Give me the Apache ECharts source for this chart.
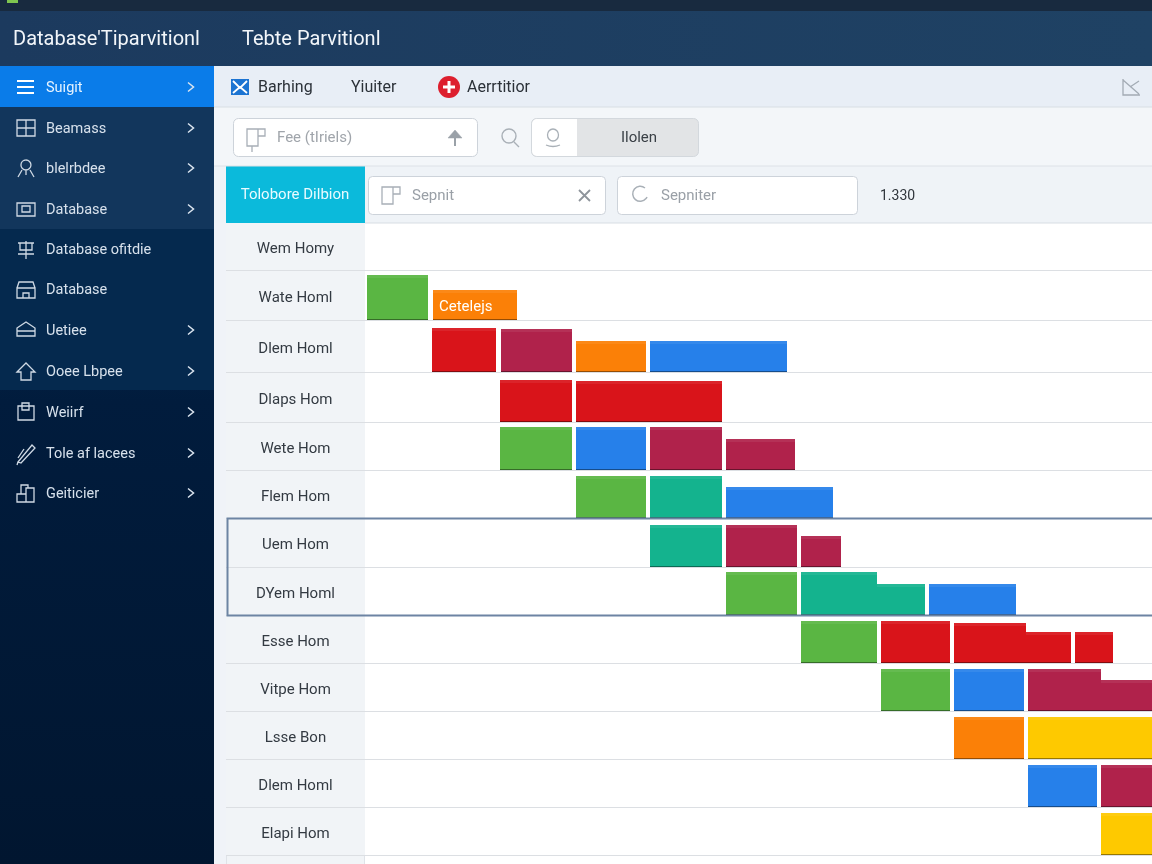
<!DOCTYPE html>
<html>
<head>
<meta charset="utf-8">
<title>Table Partition</title>
<style>
html,body{margin:0;padding:0;background:#fff;}
#main{width:1152px;height:864px;}
</style>
<script src="https://cdn.jsdelivr.net/npm/echarts@6/dist/echarts.min.js"></script>
</head>
<body>
<div id="main"></div>
<script>
// row names, top to bottom
var rowNames = ['Wem Homy','Wate Homl','Dlem Homl','Dlaps Hom','Wete Hom','Flem Hom','Uem Hom','DYem Homl','Esse Hom','Vitpe Hom','Lsse Bon','Dlem Homl','Elapi Hom'];
// row boundaries on the y axis (rows are not all the same height in the picture)
var rowEdges = [0,48,98,150,200,248,296,345,393,441,489,537,585,633];

// each bar: [row, start, end, height]
var greenBars = [[1,2,63,45],[4,135,207,43],[5,211,281,42],[7,361,432,43],[8,436,512,42],[9,516,585,42]];
var orangeBars = [[1,68,152,30],[2,211,281,31],[10,589,659,42]];
var orangeTexts = ['Cetelejs','',''];
var redBars = [[2,67,131,44],[3,135,207,42],[3,211,357,41],[8,516,585,42],[8,589,661,40],[8,661,706,31],[8,710,748,31]];
var maroonBars = [[2,136,207,43],[4,285,357,43],[4,361,430,31],[6,361,432,42],[6,436,476,31],[9,663,736,42],[9,736,787,31],[11,736,787,42]];
var blueBars = [[2,285,422,31],[4,211,281,43],[5,361,468,31],[7,564,651,31],[9,589,659,42],[11,663,732,42]];
var tealBars = [[5,285,357,42],[6,285,357,42],[7,436,512,43],[7,512,560,31]];
var yellowBars = [[10,663,787,42],[12,736,787,42]];

var menuNames = ['Suigit','Beamass','blelrbdee','Database','Database ofitdie','Database','Uetiee','Ooee Lbpee','Weiirf','Tole af lacees','Geiticier'];
var menuRows = [87,128,168,209,249,289,330,371,412,453,493];
var menuArrows = [1,1,1,1,0,0,1,1,1,1,1];

var FONT = 'Roboto, "Noto Sans", sans-serif';

function renderBar(params, api) {
    var row = api.value(0);
    var bottom = api.coord([0, rowEdges[row + 1]])[1] - 1;
    var x0 = api.coord([api.value(1), 0])[0];
    var x1 = api.coord([api.value(2), 0])[0];
    var barTop = bottom - api.value(3);
    var color = api.visual('color');
    var kids = [
        {type:'rect', shape:{x:x0,y:barTop,width:x1-x0,height:bottom-barTop}, style:{fill:color}},
        {type:'rect', shape:{x:x0,y:barTop,width:x1-x0,height:3}, style:{fill:'rgba(255,255,255,0.07)'}},
        {type:'rect', shape:{x:x0,y:bottom-1,width:x1-x0,height:1}, style:{fill:'rgba(0,0,0,0.4)'}}
    ];
    if (params.seriesName === 'Orange' && orangeTexts[params.dataIndex]) {
        kids.push({type:'text', style:{x:x0+6,y:(barTop+bottom)/2+2,text:orangeTexts[params.dataIndex],fill:'#fff',font:'15px '+FONT,verticalAlign:'middle'}});
    }
    return {type:'group', children:kids};
}

function renderRow(params, api) {
    var i = api.value(0);
    var rowTop = api.coord([0, rowEdges[i]])[1];
    var bottom = api.coord([0, rowEdges[i + 1]])[1];
    var left = api.coord([-139, 0])[0];
    var col = api.coord([0, 0])[0];
    var right = api.coord([787, 0])[0];
    return {type:'group', children:[
        {type:'rect', shape:{x:left,y:rowTop,width:col-left,height:bottom-rowTop}, style:{fill:'#f1f4f7'}},
        {type:'line', shape:{x1:left,y1:bottom-0.5,x2:right,y2:bottom-0.5}, style:{stroke:'#dcdfe3',lineWidth:1}},
        {type:'text', style:{x:(left+col)/2,y:(rowTop+bottom)/2+2,text:rowNames[i],fill:'#333a42',font:'15px '+FONT,align:'center',verticalAlign:'middle'}}
    ]};
}

function barSeries(name, color, data) {
    return {type:'custom', name:name, renderItem:renderBar, itemStyle:{color:color}, data:data, z:3, silent:true, clip:false,
        encode:{x:[1,2], y:0}};
}

// page furniture
function box(x, y, w, h, fill, stroke, r) {
    return {type:'rect', shape:{x:x,y:y,width:w,height:h,r:r||0}, style:{fill:fill,stroke:stroke||null,lineWidth:1}, silent:true};
}
function label(x, y, text, size, color, align) {
    return {type:'text', x:x, y:y, silent:true, style:{text:text,fill:color,font:size+'px '+FONT,align:align||'left',verticalAlign:'middle'}};
}

var chrome = [];
function put(list, z) {
    list.forEach(function (el) { el.z = z; chrome.push(el); });
}

var bg = [
    box(0,0,1152,864,'#ffffff'),
    box(0,0,1152,11,'#182a3f'),
    box(7,0,11,3,'#7fc650'),
    {type:'rect', silent:true, shape:{x:0,y:11,width:1152,height:55}, style:{fill:new echarts.graphic.LinearGradient(0,0,1,0,[{offset:0,color:'#1c3a5e'},{offset:1,color:'#1f4264'}])}},
    {type:'rect', silent:true, shape:{x:0,y:66,width:214,height:798}, style:{fill:new echarts.graphic.LinearGradient(0,0,0,1,[{offset:0,color:'#103358'},{offset:0.2,color:'#082a50'},{offset:0.42,color:'#011c3d'},{offset:1,color:'#011630'}])}},
    box(0,107,214,122,'#12365c'),
    box(0,229,214,161,'#05294e'),
    box(0,66,214,41,'#0a7ce9'),
    box(214,66,938,41,'#e8eef6'),
    box(214,107,938,59,'#f3f6f9'),
    box(214,166,938,57,'#eff3f7'),
    box(214,223,12,641,'#f0f3f8'),
    box(226,166,139,57,'#0bbadb'),
    box(226,856,139,8,'#f1f4f7'),
    box(214,106.5,938,1,'#d8dde4'),
    box(214,165.5,938,1,'#dde2e8'),
    box(365,222.5,787,1,'#d8dde4'),
    box(364,223,1,641,'#dfe3e8'),
    box(226,223,1,641,'#dfe3e8')
];
put(bg, -5);

var panel = [
    label(13,40,"Database'Tiparvitionl",20,'#f2f6fa'),
    label(242,40,'Tebte Parvitionl',20,'#f2f6fa'),
    label(258,88,'Barhing',16,'#2b3138'),
    label(351,88,'Yiuiter',16,'#2b3138'),
    label(467,88,'Aerrtitior',16,'#2b3138'),
    box(231,79,18,16,'#1c74d2'),
    {type:'circle', silent:true, shape:{cx:449,cy:87,r:11}, style:{fill:'#dd1f2e'}},
    box(443,85.5,12,3,'#ffffff'),
    box(447.5,81,3,12,'#ffffff'),
    box(233.5,118.5,244,38,'#ffffff','#cdd3da',5),
    label(277,138,'Fee (tIriels)',15,'#a0a5ab'),
    box(531.5,118.5,167,38,'#e2e4e6','#d3d8dd',5),
    {type:'rect', silent:true, shape:{x:532,y:119,width:45,height:37,r:[5,0,0,5]}, style:{fill:'#ffffff'}},
    label(639,138,'Ilolen',15,'#3a4046','center'),
    label(295,195,'Tolobore Dilbion',15,'#e9fbff','center'),
    box(368.5,176.5,237,38,'#ffffff','#cdd3da',4),
    label(412,196,'Sepnit',15,'#9aa0a7'),
    box(617.5,176.5,240,38,'#ffffff','#cdd3da',4),
    label(661,196,'Sepniter',15,'#9aa0a7'),
    label(880,196,'1.330',14,'#30363c')
];

// sidebar entries and their little icons
var menuIcons = [
    'M17 81H34M17 87H34M17 93H34',
    'M17 120H35V136H17ZM26 120V136M17 128H35',
    'M26 160A5 5 0 1 1 25.9 160M22 170L18 177M30 170L34 177M26 170V175',
    'M17 203H35V216H17ZM22 206H30V212H22Z',
    'M18 243H34M26 241V259M20 243V250H32V243M18 254H34',
    'M17 288H35V298H17ZM17 288L19 282H33L35 288M23 298V293H29V298',
    'M17 328L26 322L35 328V336H17ZM17 331H35',
    'M17 372L26 363L35 372H31V380H21V372Z',
    'M18 406H34V420H18ZM22 406V403H29V410H22Z',
    'M18 462L32 445L35 448L21 463ZM18 462L17 465M24 449L18 458',
    'M17 494H26V502H17ZM26 488H34V502H26ZM21 494V485H28V488'
];
var side = [];
menuNames.forEach(function (name, i) {
    side.push(label(46, menuRows[i] + 1, name, 14.5, i === 0 ? '#e6f3ff' : '#d7e1ec'));
});
put(panel.concat(side), 5);

// frame around the two selected rows
put([{type:'rect', silent:true, shape:{x:227.5,y:518.5,width:930,height:97}, style:{fill:null,stroke:'#6d84a3',lineWidth:2}}], 6);

// the graphic component has no path type, so the line icons go through a custom series
function renderIcons() {
    function icon(d, color, width, fill) {
        return {type:'path', shape:{pathData:d}, style:{fill:fill||'none',stroke:color,lineWidth:width}};
    }
    var kids = [
        icon('M233 81L240 88L247 81M233 93L240 87L247 93','#ffffff',1.8),
        icon('M1123 79V95H1140M1123 80L1139 94M1130 87L1139 81','#a3abb4',1.3),
        icon('M247 129H258V146H247ZM258 136H265V129H258M252 146V152','#a8afb7',1.3),
        icon('M448 138L455 130L462 138Z','#9aa1a8',0.5,'#9aa1a8'),
        icon('M455 136V146','#9aa1a8',2),
        icon('M502 136A7 7 0 1 1 516 136A7 7 0 1 1 502 136M514 142L519 147','#a9b0b7',1.4),
        icon('M547.5 135A5.5 6 0 1 1 558.5 135A5.5 6 0 1 1 547.5 135M546 145Q553 148 560 145','#a9b0b7',1.3),
        icon('M382 187H393V204H382ZM393 194H400V187H393','#a8afb7',1.3),
        icon('M579 190L590 201M590 190L579 201','#8e949b',1.8),
        icon('M645 188A7.5 7.5 0 1 0 647 197','#a9b0b7',1.5)
    ];
    menuIcons.forEach(function (d, i) {
        var y = menuRows[i];
        kids.push(icon(d, i === 0 ? '#ffffff' : '#cfd9e4', i === 0 ? 2 : 1.3));
        if (menuArrows[i]) {
            kids.push(icon('M188 ' + (y-4.5) + 'L193.5 ' + y + 'L188 ' + (y+4.5), '#dbe5ef', 1.5));
        }
    });
    return {type:'group', children:kids};
}

var rowData = rowNames.map(function (n, i) { return [i]; });

var option = {
    animation: false,
    backgroundColor: '#ffffff',
    grid: {left:226, top:223, width:926, height:641},
    xAxis: {type:'value', min:-139, max:787, show:false},
    yAxis: {type:'value', min:0, max:641, inverse:true, show:false},
    graphic: {elements: chrome},
    series: [
        {type:'custom', name:'Rows', renderItem:renderRow, data:rowData, z:2, silent:true, clip:false, encode:{y:0}},
        barSeries('Green','#5ab643',greenBars),
        barSeries('Orange','#fb8007',orangeBars),
        barSeries('Red','#d9141a',redBars),
        barSeries('Maroon','#b0224b',maroonBars),
        barSeries('Blue','#2680ea',blueBars),
        barSeries('Teal','#14b38e',tealBars),
        barSeries('Yellow','#fec900',yellowBars),
        {type:'custom', name:'Icons', renderItem:renderIcons, data:[[0]], z:8, silent:true, clip:false}
    ]
};

var myChart = echarts.init(document.getElementById('main'));
myChart.setOption(option);
</script>
</body>
</html>
